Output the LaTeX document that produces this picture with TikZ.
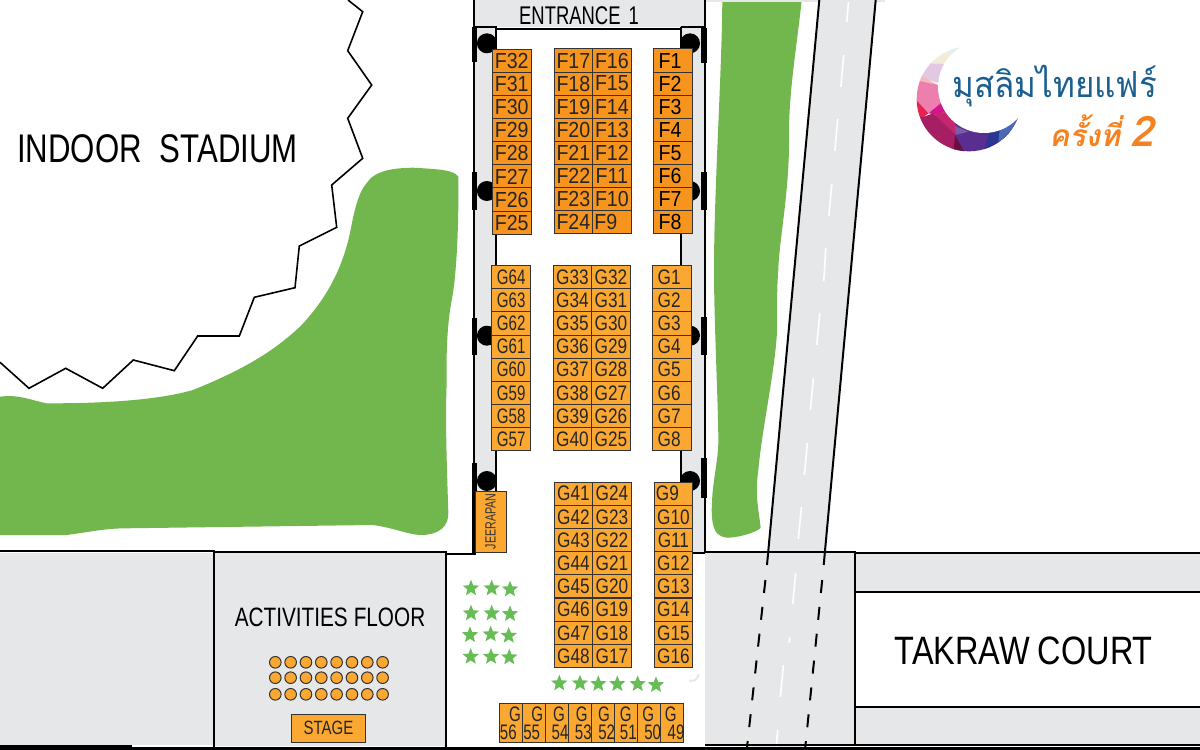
\documentclass[tikz,border=0pt]{standalone}
\usepackage{fontspec}
\usetikzlibrary{shapes.geometric}
\setmainfont{Liberation Sans}
\newfontfamily\nF[FakeStretch=.9]{Liberation Sans}
\newfontfamily\nG[FakeStretch=.82]{Liberation Sans}
\newfontfamily\nH[FakeStretch=.72]{Liberation Sans}
\newfontfamily\nB[FakeStretch=.78]{Liberation Sans}
\newfontfamily\thaiA[Script=Thai,FakeStretch=.92]{Loma}
\newfontfamily\thaiO[Script=Thai,FakeSlant=.2]{Loma}
\definecolor{roadgrey}{HTML}{E6E7E8}
\definecolor{lawn}{HTML}{72B74E}
\definecolor{starg}{HTML}{66BD55}
\definecolor{boothF}{HTML}{F7941E}
\definecolor{boothG}{HTML}{FAA832}
\definecolor{edgeD}{HTML}{333333}
\definecolor{logoblue}{HTML}{1A5F92}
\definecolor{logoorange}{HTML}{F58220}
\newcommand\logopoly[2]{\definecolor{lpc}{HTML}{#1}\fill[lpc] #2 -- cycle;}
\tikzset{
  wall/.style={draw=black,line width=1pt},
  thin wall/.style={draw=black,line width=.8pt},
  pillar/.style={fill=black,draw=none},
  fbooth/.style={draw=edgeD,line width=.5pt,fill=boothF,minimum width=19.3pt,minimum height=11.55pt,inner sep=0pt,text=black!85,font=\nF\fontsize{10.9}{12}\selectfont},
  gbooth/.style={fbooth,fill=boothG,font=\nG\fontsize{10.5}{12}\selectfont},
  hbooth/.style={gbooth,font=\nH\fontsize{10.5}{12}\selectfont},
  bigtext/.style={inner sep=0pt,text=black,font=\nB\fontsize{20}{24}\selectfont},
  smallbooth/.style={draw=edgeD,line width=.5pt,fill=boothG,minimum width=11.55pt,minimum height=19.5pt,inner sep=0pt},
  digit/.style={inner sep=0pt,text=black!85,font=\nH\fontsize{10.5}{12}\selectfont},
  seat/.style={circle,draw=edgeD,line width=.5pt,fill=boothG,minimum size=5.8pt,inner sep=0pt},
  plant/.style={star,star points=5,star point ratio=2.3,fill=starg,draw=none,minimum size=8.6pt,inner sep=0pt},
  whitedash/.style={draw=white,line width=.8pt},
}
\begin{document}
\begin{tikzpicture}[x=.5pt,y=-.5pt]
\useasboundingbox (0,0) rectangle (1200,750);
\fill[white] (0,0) rectangle (1200,750);

% lawns
\fill[lawn] (458.3,176.7) .. controls (454,171) and (447,169.5) .. (413,167.7)
  .. controls (395,168) and (375,170) .. (366.7,183)
  .. controls (358,193) and (354,212) .. (350,233)
  .. controls (345,255) and (335,290) .. (300,326.7)
  .. controls (280,345) and (255,365) .. (193,390)
  .. controls (165,398) and (120,403.5) .. (46.7,403.3)
  .. controls (30,400) and (18,394) .. (0,396.7)
  -- (0,535) -- (66.7,535)
  .. controls (90,532) and (105,528.3) .. (126.7,528.3)
  -- (373,525)
  .. controls (395,528) and (410,535.5) .. (423,535)
  .. controls (440,534) and (449,526) .. (448.3,512)
  .. controls (447,470) and (445,420) .. (446.7,383)
  .. controls (446,345) and (448,320) .. (451.7,300)
  .. controls (456,280) and (459,230) .. (458.3,176.7) -- cycle;
\fill[lawn] (722.3,0) -- (801.7,0)
  .. controls (797,45) and (789,90) .. (789,133)
  .. controls (790,190) and (779,240) .. (778.3,270)
  .. controls (776,300) and (778,320) .. (776.7,336.7)
  .. controls (774,375) and (762,430) .. (758.3,470)
  .. controls (755,495) and (758,505) .. (760.7,528)
  .. controls (755,533) and (738,537.7) .. (726.7,537.7)
  .. controls (716,536) and (712,530) .. (711.7,510)
  .. controls (712,480) and (719,460) .. (718.3,436.7)
  .. controls (718,400) and (714,320) .. (714,270)
  .. controls (714,190) and (722,70) .. (722.3,0) -- cycle;

% stadium edge
\draw[black,line width=.8pt,line join=miter]
  (348,0) -- (362.7,11.7) -- (347.7,50.7) -- (371.7,85) -- (347.7,118.3) -- (362.7,158.3)
  -- (331.7,185) -- (336.7,227.3) -- (299.3,246) -- (295,287.7) -- (254.3,297.3)
  -- (239.3,336) -- (197.7,336) -- (174.3,370.7) -- (133.3,360) -- (102.7,388.3)
  -- (65.7,368.3) -- (29,388.3) -- (0,362.3);

% grey floors
\fill[roadgrey] (0,553) rectangle (214,745);
\fill[roadgrey] (214,553) rectangle (446,746);
\fill[roadgrey] (705,552) rectangle (855,745);
\fill[roadgrey] (855,553) rectangle (1200,592);
\fill[roadgrey] (855,707) rectangle (1200,745);
\fill[roadgrey] (473,1) rectangle (704,27);
\fill[roadgrey] (475,27) rectangle (496,492);
\fill[roadgrey] (681,27) rectangle (704,553);
\fill[roadgrey] (819.3,0) -- (875.7,0) -- (825,552) -- (805,750) -- (746.7,750) -- (768.3,552) -- cycle;
\draw[roadgrey,line width=1pt] (473,.5) -- (885,.5);

% road lines
\draw[wall] (819.3,0) -- (767,565);
\draw[wall] (875.7,0) -- (823.7,565);
\draw[wall,dash pattern=on 6.5pt off 7pt] (765.4,580) -- (746.7,750);
\draw[wall,dash pattern=on 6.5pt off 7pt] (822.2,580) -- (805,750);
\foreach \xa/\ya/\xb/\yb in {848.5/2/846.8/22,843.8/55/840.8/87,837.8/119/834.8/151,831.8/184/828.8/216,825.8/248/823.8/281,819.8/313/816.8/345,813.4/378/810.4/410,807.4/443/804.4/475,801.4/507/798.4/539,795.7/573/792.7/604,789.7/637/789.1/643,783.4/665/780.4/697,777.7/730/776/750}
  \draw[whitedash] (\xa,\ya) -- (\xb,\yb);

% outlines of floors
\draw[wall] (0,551) -- (214.3,551) -- (214.3,748);
\draw[wall] (214.3,552) -- (445.7,552) -- (445.7,748);
\draw[wall] (445.7,554.3) -- (476,554.3);
\draw[thin wall] (705,551.7) -- (855,551.7) -- (855,745);
\draw[wall] (855,553.3) -- (1200,553.3);
\draw[wall] (855,591.7) -- (1200,591.7);
\draw[wall] (855,706.7) -- (1200,706.7);
\draw[thin wall] (705,745) -- (1200,745);
\fill[black] (0,744.5) rectangle (132,750);
\fill[black] (132,747) rectangle (1200,750);

% entrance walls
\draw[wall] (473.5,0) -- (473.5,554);
\draw[wall] (704.5,0) -- (704.5,553);
\draw[wall] (473.5,27) -- (495.7,27) -- (495.7,492);
\draw[wall] (495.7,29.3) -- (680.7,29.3);
\draw[wall] (680.7,27) -- (704.5,27);
\draw[wall] (680.7,27) -- (680.7,490);
\draw[wall] (692,553.3) -- (705,553.3);
\foreach \ya/\yb in {27/62,172/210,318/355,463/553}
  \fill[black] (472.3,\ya) rectangle (477.3,\yb);
\foreach \ya/\yb in {28/63,172/210,317/355,458/498}
  \fill[black] (700.5,\ya) rectangle (706.5,\yb);
\foreach \py/\pn in {43.3/a,191/b,335.7/c,481/d}{
  \node[pillar,circle,minimum size=10pt,inner sep=0pt] (pl\pn) at (486.9,\py) {};
  \node[pillar,circle,minimum size=10pt,inner sep=0pt] (pr\pn) at (690,\py) {};
}

% title labels
\node[bigtext,font=\nH\fontsize{12.8}{14}\selectfont] (entrance) at (579,16) {ENTRANCE\hspace{4pt}1};
\node[bigtext] (stadium) at (157.5,149) {INDOOR\hspace{9pt}STADIUM};
\node[bigtext,font=\nG\fontsize{19.8}{22}\selectfont] (takraw) at (1023.7,650.5) {TAKRAW\hspace{4pt}COURT};
\node[bigtext,font=\nB\fontsize{13.3}{15}\selectfont] (activities) at (330,617.5) {ACTIVITIES\hspace{3pt}FLOOR};

% F booths
\foreach \n [count=\i from 0] in {32,31,30,29,28,27,26,25}
  \node[fbooth] (F\n) at (511.7,60.9+23.1*\i) {F\n};
\foreach \n [count=\i from 0] in {17,18,19,20,21,22,23,24}
  \node[fbooth] (F\n) at (573.4,60.5+23.1*\i) {F\n};
\foreach \n [count=\i from 0] in {16,15,14,13,12,11,10}
  \node[fbooth] (F\n) at (611.9,60.5+23.1*\i) {F\n};
\node[fbooth] (F9) at (611.9,222.2) {\kern-6pt F9};
\foreach \n [count=\i from 0] in {1,2,3,4,5,6,7,8}
  \node[fbooth,text=black] (F\n) at (673,60.5+23.1*\i) {\kern-3pt F\n};

% G booths
\foreach \n [count=\i from 0] in {64,63,62,61,60,59,58,57}
  \node[hbooth] (G\n) at (511.2,277.3+23.1*\i) {G\n};
\foreach \n [count=\i from 0] in {33,34,35,36,37,38,39,40}
  \node[gbooth] (G\n) at (572.4,277.3+23.1*\i) {G\n};
\foreach \n [count=\i from 0] in {32,31,30,29,28,27,26,25}
  \node[gbooth] (G\n) at (610.9,277.3+23.1*\i) {G\n};
\foreach \n [count=\i from 0] in {1,2,3,4,5,6,7,8}
  \node[gbooth] (G\n) at (672.2,277.3+23.1*\i) {\kern-3pt G\n};
\foreach \n [count=\i from 0] in {41,42,43,44,45,46,47,48}
  \node[gbooth] (G\n) at (573.4,493.6+23.2*\i) {G\n};
\foreach \n [count=\i from 0] in {24,23,22,21,20,19,18,17}
  \node[gbooth] (G\n) at (611.9,493.6+23.2*\i) {G\n};
\node[gbooth] (G9) at (673.4,493.6) {\kern-6pt G9};
\foreach \n [count=\i from 1] in {10,11,12,13,14,15,16}
  \node[gbooth] (G\n) at (673.4,493.6+23.2*\i) {G\n};

% bottom row booths
\foreach \n [count=\i from 0] in {56,55,54,53,52,51,50,49}
  \node[smallbooth] (b\n) at (510.8+23.09*\i,722.8) {};
\foreach \n/\gx/\nx in {56/515/508.3,55/537.3/531.7,54/559/560,53/581.7/583.3,52/604/606.7,51/625.7/628.3,50/648.3/652.7,49/670.7/676}{
  \node[digit] (gl\n) at (\gx,714) {G};
  \node[digit] (nl\n) at (\nx,732.7) {\n};
}

% Jeerapan
\node[draw=edgeD,line width=.5pt,fill=boothG,minimum width=15.3pt,minimum height=30.5pt,inner sep=0pt] (jeerapan) at (490.8,522) {};
\node[rotate=90,inner sep=0pt,text=black!80,font=\nH\fontsize{7.4}{8}\selectfont] (jeerapantext) at (490.5,521.3) {JEERAPAN};

% stage and seats
\foreach \yy [count=\r] in {662.3,677.7,694.3}
  \foreach \c in {0,...,7}
    \node[seat] (s\r\c) at (275.3+15.33*\c,\yy) {};
\node[draw=edgeD,line width=.7pt,fill=boothG,minimum width=37pt,minimum height=14pt,inner sep=0pt,text=black!85,font=\nB\fontsize{9.6}{11}\selectfont] (stage) at (328.5,728.3) {STAGE};

% plants
\foreach \px/\py [count=\k] in {471/588.3,491.7/588.3,510/589.3,471/613.3,491.7/613.3,510/614,470/635,490.7/634.3,508.7/635.7,470.7/656.7,491/656.7,509.3/657.3,559.3/683.3,580/683.3,598.3/684,617.3/684,637.7/684,656/685}
  \node[plant] (st\k) at (\px,\py) {};
\draw[roadgrey,line width=1pt] (698.5,674) arc[start angle=0,end angle=110,radius=7];

% logo crescent (coordinates in units of a third of a reference pixel)
\begin{scope}[shift={(900,20)},x=.16667pt,y=-.16667pt]
  \begin{scope}
    \clip (207,237) circle[radius=157];
    \logopoly{5A2D91}{(150,300) -- (400,260) -- (400,420) -- (150,420)}
    \logopoly{F3ECD9}{(130,60) -- (200,60) -- (130,135) -- (80,135)}
    \logopoly{DFF0F2}{(120,60) -- (200,60) -- (155,105) -- (145,95)}
    \logopoly{E2C9E1}{(85,130) -- (135,132) -- (118,190) -- (60,172)}
    \logopoly{F6B9BB}{(60,165) -- (118,198) -- (40,180)}
    \logopoly{EC7FAE}{(45,180) -- (113,195) -- (128,245) -- (85,280) -- (40,230)}
    \logopoly{EA2050}{(40,230) -- (85,280) -- (65,295) -- (40,290)}
    \logopoly{D4148C}{(85,280) -- (128,245) -- (148,275) -- (100,282)}
    \logopoly{A61F63}{(40,290) -- (65,292) -- (100,280) -- (165,335) -- (165,420) -- (100,420)}
    \logopoly{C4266F}{(100,280) -- (148,275) -- (170,320) -- (168,345)}
    \logopoly{6B0F3F}{(165,345) -- (195,400) -- (160,400)}
    \logopoly{7A5CAB}{(165,318) -- (205,335) -- (168,345)}
    \logopoly{2B3592}{(270,330) -- (340,310) -- (310,400) -- (250,400)}
    \logopoly{4A68B5}{(300,320) -- (380,260) -- (400,330) -- (320,365) -- (295,365)}
  \end{scope}
  \fill[white] (252,201) circle[radius=138];
\end{scope}
\node[anchor=base west,inner sep=0pt,text=logoblue,font=\thaiA\fontsize{18}{22}\selectfont] (fairname) at (952,97) {มุสลิมไทยแฟร์};
\node[anchor=base west,inner sep=0pt,text=logoorange,font=\thaiO\bfseries\fontsize{15}{18}\selectfont] (fairno) at (1049,146.7) {ครั้งที่ {\fontsize{21}{24}\selectfont\bfseries 2}};
\end{tikzpicture}
\end{document}
